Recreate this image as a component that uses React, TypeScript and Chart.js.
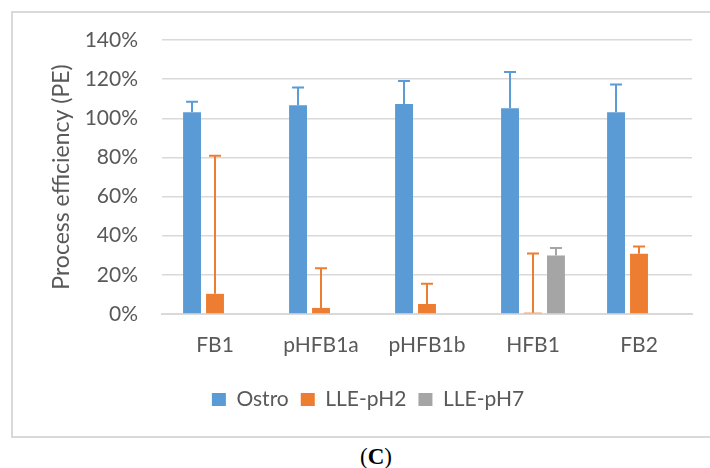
import React, { useEffect, useRef } from "react";
import { Chart, registerables } from "chart.js";

Chart.register(...registerables);

const categories = ["FB1", "pHFB1a", "pHFB1b", "HFB1", "FB2"];
const ostro = [103.1, 106.7, 107.3, 105.1, 103.1];
const ostroErr = [5.3, 9.0, 11.7, 18.5, 14.1];
const llePH2 = [10.3, 3.1, 5.1, 0.7, 30.8];
const llePH2Err = [70.5, 20.3, 10.3, 30.2, 3.7];
const llePH7 = [null, null, null, 29.9, null];
const llePH7Err = [null, null, null, 3.8, null];
const seriesNames = ["Ostro", "LLE-pH2", "LLE-pH7"];
const yTitle = "Process efficiency (PE)";
const caption = "C";

const FONT = "Lato";
const TEXT = "#595959";
const COLORS = ["#5B9BD5", "#ED7D31", "#A5A5A5"];
const errs = [ostroErr, llePH2Err, llePH7Err];

const errorBarPlugin = {
  id: "errorBars",
  afterDatasetsDraw(chart: any) {
    const ctx = chart.ctx;
    const yScale = chart.scales.y;
    chart.data.datasets.forEach((ds: any, di: number) => {
      const meta = chart.getDatasetMeta(di);
      const e = errs[di];
      meta.data.forEach((el: any, i: number) => {
        const v = ds.data[i];
        const err = e[i];
        if (v == null || err == null) return;
        const yTop = yScale.getPixelForValue(v + err);
        const yBase = yScale.getPixelForValue(v);
        ctx.save();
        ctx.strokeStyle = COLORS[di];
        ctx.lineWidth = 2;
        ctx.beginPath();
        ctx.moveTo(el.x, yBase);
        ctx.lineTo(el.x, yTop);
        ctx.moveTo(el.x - 6, yTop);
        ctx.lineTo(el.x + 6, yTop);
        ctx.stroke();
        ctx.restore();
      });
    });
  },
};

export default function App() {
  const ref = useRef<HTMLCanvasElement | null>(null);
  useEffect(() => {
    if (!ref.current) return;
    const chart = new Chart(ref.current, {
      type: "bar",
      data: {
        labels: categories,
        datasets: [ostro, llePH2, llePH7].map((d, i) => ({
          label: seriesNames[i],
          data: d as any,
          backgroundColor: COLORS[i],
          borderWidth: 0,
          categoryPercentage: 0.65,
          barPercentage: 0.78,
        })),
      },
      options: {
        animation: false,
        responsive: false,
        layout: { padding: { left: 44, right: 18, top: 40, bottom: 17 } },
        plugins: {
          legend: {
            position: "bottom",
            labels: {
              boxWidth: 14,
              boxHeight: 13,
              padding: 12,
              color: TEXT,
              font: { family: FONT, size: 21 },
            },
          },
          tooltip: { enabled: false },
        },
        scales: {
          x: {
            grid: { display: false, drawTicks: false },
            border: { display: true, color: "#d9d9d9", width: 2 },
            ticks: { color: TEXT, font: { family: FONT, size: 21 }, padding: 19 },
            afterFit: (s: any) => {
              s.height = 63;
            },
          },
          y: {
            min: 0,
            max: 140,
            ticks: {
              stepSize: 20,
              color: TEXT,
              font: { family: FONT, size: 21 },
              padding: 24,
              callback: (v: any) => v + "%",
            },
            grid: { color: "#d9d9d9", lineWidth: 1.5, drawTicks: false },
            border: { display: false },
            title: {
              display: true,
              text: yTitle,
              color: TEXT,
              font: { family: FONT, size: 23 },
              padding: { top: 4, bottom: 4 },
            },
            afterFit: (s: any) => {
              s.width = 118;
            },
          },
        },
      },
      plugins: [errorBarPlugin],
    });
    return () => chart.destroy();
  }, []);

  return (
    <div
      style={{
        position: "fixed",
        left: 0,
        top: 0,
        width: 710,
        height: 468,
        background: "#fff",
        overflow: "hidden",
      }}
    >
      <div
        style={{
          position: "absolute",
          left: 11,
          top: 11,
          width: 740,
          height: 423,
          border: "2px solid #d9d9d9",
        }}
      />
      <canvas
        ref={ref}
        width={710}
        height={437}
        style={{ position: "absolute", left: 0, top: 0 }}
      />
      <div
        style={{
          position: "absolute",
          left: 326,
          width: 100,
          top: 445,
          textAlign: "center",
          fontFamily: "'Liberation Serif', serif",
          fontSize: 23,
          lineHeight: "24px",
          color: "#000",
        }}
      >
        (<b>{caption}</b>)
      </div>
    </div>
  );
}
